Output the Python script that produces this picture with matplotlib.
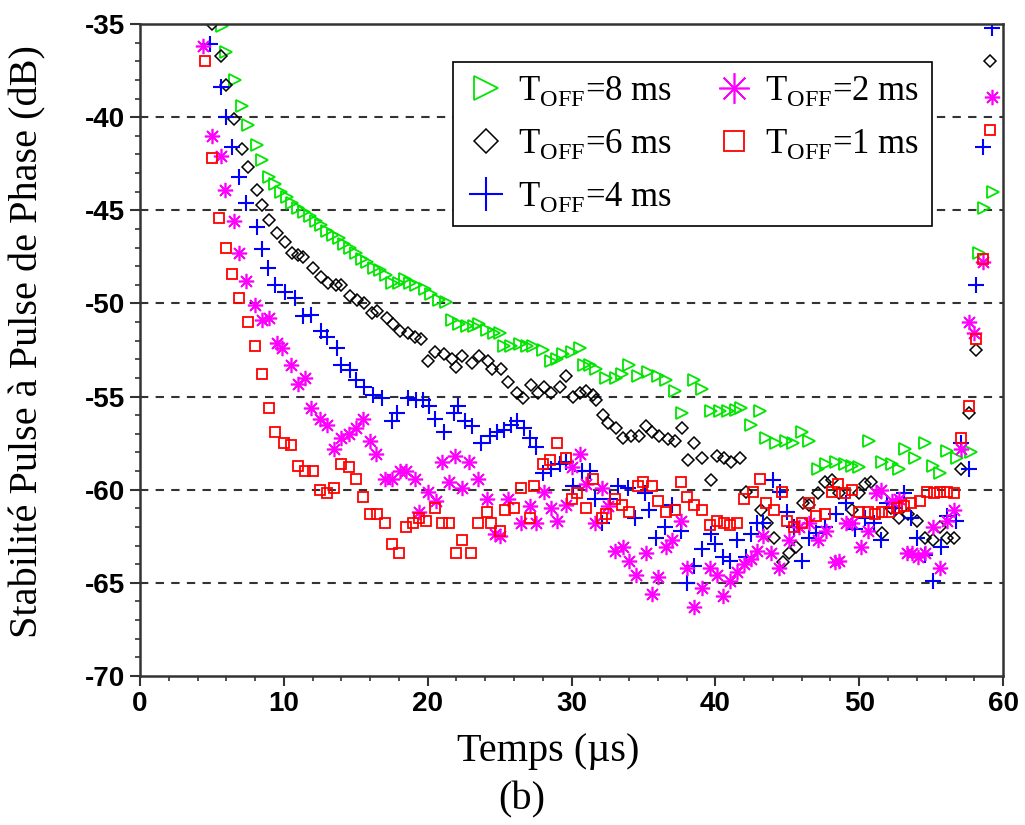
"""
Stabilite pulse a pulse de phase vs temps, pour plusieurs T_OFF
"""
import matplotlib.pyplot as plt
from matplotlib.ticker import MultipleLocator

# T_OFF = 8 ms (green triangles)
x_8ms = [5.7, 6.0, 6.6, 7.1, 7.5, 8.1, 8.5, 9.0, 9.4, 9.8, 10.2, 10.6, 11.0, 11.4, 11.8,
         12.2, 12.6, 13.0, 13.4, 13.8, 14.2, 14.6, 15.0, 15.4, 15.8, 16.3, 16.7, 17.1, 17.5,
         18.0, 18.4, 18.8, 19.2, 19.8, 20.2, 20.8, 21.3, 21.7, 22.2, 22.7, 23.2, 23.6, 24.1,
         24.6, 25.0, 25.3, 25.8, 26.4, 26.9, 27.3, 28.0, 28.6, 29.0, 29.4, 30.0, 30.6, 30.9,
         31.3, 31.7, 32.4, 33.1, 33.5, 34.0, 34.6, 35.3, 36.0, 36.6, 37.2, 37.7, 38.5, 39.1,
         39.7, 40.3, 40.9, 41.4, 41.8, 42.5, 43.1, 43.5, 44.2, 44.9, 45.4, 46.0, 46.5, 47.1,
         47.7, 48.4, 49.0, 49.5, 50.0, 50.7, 51.6, 52.3, 52.8, 53.2, 53.9, 54.6, 55.1, 55.6,
         56.1, 56.8, 57.8, 58.3, 58.7, 59.3]
y_8ms = [-35.1, -36.5, -38.0, -39.4, -40.4, -41.5, -42.3, -43.2, -43.6, -44.0, -44.3, -44.6,
         -44.9, -45.1, -45.3, -45.6, -45.8, -46.1, -46.3, -46.5, -46.8, -47.0, -47.3, -47.6,
         -47.8, -48.1, -48.2, -48.5, -48.9, -48.9, -48.7, -48.9, -49.0, -49.2, -49.5, -49.8,
         -49.9, -50.9, -51.1, -51.2, -51.2, -51.1, -51.4, -51.6, -51.6, -52.3, -52.3, -52.2,
         -52.3, -52.3, -52.5, -53.1, -53.0, -52.7, -52.6, -52.4, -53.3, -53.3, -53.5, -54.0,
         -54.0, -53.8, -53.3, -53.9, -53.7, -53.9, -54.1, -54.7, -55.9, -54.1, -54.6, -55.8,
         -55.8, -55.8, -55.7, -55.6, -56.5, -55.8, -57.2, -57.5, -57.4, -57.5, -56.9, -57.4,
         -58.9, -58.6, -58.5, -58.6, -58.7, -58.8, -57.4, -58.5, -58.6, -58.9, -57.8, -58.3,
         -57.5, -58.7, -59.1, -57.9, -58.3, -58.0, -47.3, -44.9, -44.0]

# T_OFF = 6 ms (black diamonds)
x_6ms = [5.0, 5.6, 6.0, 6.5, 7.1, 7.5, 8.1, 8.5, 9.0, 9.5, 10.1, 10.6, 11.0, 11.3, 12.0,
         12.6, 13.1, 13.6, 14.0, 14.6, 15.1, 15.6, 16.1, 16.5, 17.2, 17.6, 18.1, 18.6, 19.1,
         19.5, 20.0, 20.5, 21.1, 21.7, 22.0, 22.4, 23.1, 23.6, 24.2, 24.5, 25.1, 25.6, 26.2,
         26.6, 27.2, 27.7, 28.1, 28.6, 29.2, 29.6, 30.1, 30.6, 31.0, 31.5, 31.7, 32.2, 32.5,
         33.1, 33.6, 34.1, 34.7, 35.2, 35.6, 36.1, 36.7, 37.2, 37.7, 38.1, 38.5, 39.1, 39.7,
         40.1, 40.6, 41.1, 41.7, 42.1, 43.2, 43.6, 44.1, 44.7, 45.1, 45.6, 46.1, 46.5, 47.1,
         47.6, 48.1, 48.6, 49.5, 50.0, 50.4, 50.8, 51.6, 52.2, 52.8, 53.4, 54.0, 54.6, 55.1,
         55.6, 56.1, 56.6, 57.1, 57.6, 58.1, 59.1]
y_6ms = [-35.0, -36.7, -38.3, -40.1, -41.7, -42.7, -43.9, -44.7, -45.5, -46.2, -46.7, -47.3,
         -47.4, -47.5, -48.1, -48.6, -48.9, -49.0, -49.0, -49.6, -49.8, -50.0, -50.5, -50.4,
         -50.8, -51.1, -51.5, -51.6, -51.8, -51.9, -53.1, -52.6, -52.7, -53.0, -53.4, -52.8,
         -53.2, -52.8, -53.1, -53.5, -53.5, -54.2, -54.8, -55.1, -54.4, -54.8, -54.5, -54.8,
         -54.5, -53.9, -55.0, -54.8, -54.7, -54.9, -55.2, -56.0, -56.4, -56.7, -57.2, -57.1,
         -57.1, -56.6, -56.9, -57.1, -57.3, -57.4, -56.7, -58.4, -57.5, -58.3, -59.5, -58.2,
         -58.3, -58.5, -58.3, -60.1, -61.1, -61.8, -62.6, -63.9, -63.4, -63.1, -60.7, -60.8,
         -60.2, -59.6, -59.5, -60.2, -61.1, -60.2, -59.7, -59.6, -62.3, -61.0, -61.5, -61.3,
         -61.7, -62.6, -62.7, -62.0, -62.6, -62.6, -58.9, -55.9, -52.5, -37.0]

# T_OFF = 4 ms (blue plus)
x_4ms = [4.9, 5.6, 6.0, 6.4, 6.9, 7.4, 8.1, 8.5, 8.9, 9.4, 10.1, 10.8, 11.3, 11.9, 12.6,
         13.0, 13.7, 14.0, 14.6, 15.0, 15.6, 16.2, 16.8, 17.5, 17.9, 18.6, 19.2, 19.7, 20.1,
         20.5, 21.1, 21.8, 22.1, 22.6, 23.1, 23.7, 24.3, 24.8, 25.3, 25.8, 26.2, 26.7, 27.1,
         27.5, 28.0, 28.6, 29.2, 29.6, 30.1, 30.7, 31.3, 31.6, 32.1, 32.7, 33.2, 33.9, 34.4,
         35.1, 35.4, 35.9, 36.5, 37.0, 37.6, 38.0, 38.5, 39.1, 39.7, 40.0, 40.5, 41.0, 41.5,
         42.1, 42.5, 42.9, 43.3, 44.0, 44.5, 45.0, 45.5, 46.0, 46.5, 47.0, 47.6, 48.4, 49.1,
         49.7, 50.4, 51.0, 51.5, 51.9, 52.5, 53.1, 53.6, 54.0, 54.6, 55.1, 55.7, 56.1, 56.7,
         57.1, 57.6, 58.1, 58.6, 59.2]
y_4ms = [-36.1, -38.4, -40.0, -41.6, -43.2, -44.6, -45.9, -47.1, -48.1, -49.0, -49.4, -49.7,
         -50.7, -50.6, -51.5, -51.8, -52.4, -53.3, -53.6, -54.1, -54.5, -54.9, -55.1, -56.3,
         -55.9, -55.1, -55.2, -55.2, -55.5, -56.2, -56.9, -55.9, -55.5, -56.3, -56.6, -57.5,
         -57.1, -56.9, -56.8, -56.5, -56.3, -56.7, -57.2, -57.7, -59.1, -58.9, -58.6, -58.5,
         -59.8, -59.0, -59.0, -60.5, -61.8, -60.5, -59.8, -59.9, -61.5, -60.2, -61.1, -62.6,
         -62.0, -60.8, -62.2, -65.0, -64.1, -63.2, -62.4, -62.9, -63.6, -63.8, -62.7, -63.6,
         -62.4, -61.8, -61.8, -59.5, -60.1, -61.2, -62.0, -63.8, -62.6, -62.3, -62.0, -61.3,
         -60.7, -62.1, -61.5, -61.8, -62.7, -60.7, -61.0, -60.2, -61.5, -62.6, -63.5, -64.9,
         -63.1, -61.4, -61.7, -57.5, -58.9, -49.0, -41.6, -35.2]

# T_OFF = 2 ms (magenta asterisks)
x_2ms = [4.4, 5.0, 5.6, 5.9, 6.5, 6.9, 7.4, 8.0, 8.5, 9.0, 9.5, 9.9, 10.5, 11.0, 11.5,
         11.9, 12.5, 13.0, 13.5, 14.0, 14.5, 15.0, 15.5, 16.0, 16.4, 17.0, 17.5, 18.1, 18.5,
         19.1, 19.4, 20.0, 20.6, 21.0, 21.5, 21.9, 22.4, 22.9, 23.5, 24.1, 24.7, 25.0, 25.6,
         26.5, 27.1, 27.5, 28.1, 28.6, 29.0, 29.6, 30.0, 30.6, 31.0, 31.6, 32.1, 32.5, 33.0,
         33.6, 34.0, 34.5, 35.2, 35.6, 36.0, 36.6, 37.0, 37.6, 38.0, 38.5, 39.1, 39.6, 40.1,
         40.5, 41.0, 41.5, 42.0, 42.5, 42.9, 43.3, 43.9, 44.4, 45.1, 45.8, 46.5, 47.1, 47.7,
         48.3, 48.6, 49.1, 49.5, 50.1, 50.6, 51.2, 51.5, 52.3, 52.8, 53.3, 53.7, 54.1, 54.6,
         55.1, 55.6, 56.1, 56.6, 57.1, 57.6, 58.0, 58.6, 59.2]
y_2ms = [-36.2, -41.0, -42.1, -43.9, -45.6, -47.3, -48.8, -50.1, -50.9, -50.8, -52.1, -52.4,
         -53.3, -54.3, -54.0, -55.6, -56.2, -56.5, -57.8, -57.2, -57.0, -56.7, -56.2, -57.4,
         -58.1, -59.4, -59.4, -59.0, -59.0, -59.4, -61.2, -60.1, -60.6, -58.5, -59.6, -58.2,
         -59.9, -58.5, -59.4, -60.5, -62.4, -62.5, -60.5, -61.8, -60.9, -61.8, -60.1, -61.0,
         -61.7, -60.8, -58.8, -58.1, -59.7, -61.8, -59.9, -60.9, -63.3, -63.1, -63.8, -64.6,
         -63.4, -65.6, -64.7, -63.1, -62.7, -61.7, -64.2, -66.3, -65.3, -64.2, -64.6, -65.7,
         -64.9, -64.4, -64.0, -63.7, -63.3, -62.5, -63.4, -64.2, -62.7, -62.0, -61.8, -62.7,
         -62.2, -63.9, -63.8, -61.8, -61.8, -63.1, -62.2, -60.2, -60.0, -60.6, -60.5, -63.4,
         -63.4, -63.6, -63.4, -62.0, -64.2, -61.7, -61.1, -57.8, -51.0, -51.6, -47.8, -38.9]

# T_OFF = 1 ms (red squares)
x_1ms = [4.5, 5.0, 5.5, 6.0, 6.4, 6.9, 7.5, 8.0, 8.5, 9.0, 9.4, 10.0, 10.5, 11.0, 11.5,
         12.0, 12.5, 13.0, 13.5, 14.0, 14.5, 15.0, 15.5, 16.0, 16.5, 17.0, 17.5, 18.0, 18.5,
         19.0, 19.4, 19.9, 20.5, 21.0, 21.5, 22.0, 22.4, 23.0, 23.5, 24.1, 24.4, 25.0, 25.4,
         26.0, 26.5, 27.1, 27.4, 28.0, 28.5, 29.0, 29.6, 30.0, 30.4, 31.0, 31.5, 32.1, 32.4,
         33.0, 33.5, 34.0, 34.6, 35.0, 35.6, 36.0, 36.6, 37.2, 37.6, 38.0, 38.5, 39.1, 39.6,
         40.1, 40.6, 41.0, 41.5, 42.0, 42.6, 43.1, 43.5, 44.1, 44.6, 45.0, 45.5, 46.0, 46.5,
         47.0, 47.6, 48.1, 48.5, 49.0, 49.5, 50.0, 50.6, 51.1, 51.6, 52.1, 52.6, 53.1, 53.6,
         54.2, 54.7, 55.2, 55.6, 56.1, 56.6, 57.1, 57.6, 58.1, 58.6, 59.1]
y_1ms = [-37.0, -42.2, -45.4, -47.0, -48.4, -49.7, -51.0, -52.3, -53.8, -55.6, -56.9, -57.5,
         -57.6, -58.7, -59.0, -59.0, -60.0, -60.2, -59.9, -58.6, -58.8, -59.4, -60.4, -61.3,
         -61.3, -61.8, -62.9, -63.4, -62.0, -61.8, -61.5, -61.7, -61.0, -61.8, -61.8, -63.4,
         -62.7, -63.4, -61.8, -61.2, -61.8, -62.2, -61.1, -61.0, -59.9, -61.5, -59.8, -58.6,
         -58.4, -57.5, -58.3, -60.5, -60.2, -61.0, -59.4, -61.5, -61.3, -60.5, -60.8, -61.2,
         -59.8, -59.6, -59.8, -60.6, -61.2, -61.1, -59.6, -60.4, -60.8, -61.1, -61.9, -61.7,
         -61.8, -61.9, -61.8, -60.5, -60.1, -59.4, -60.7, -61.1, -60.1, -61.7, -62.0, -61.8,
         -60.7, -61.4, -61.3, -60.1, -59.7, -60.2, -60.0, -61.2, -61.2, -61.3, -61.2, -61.2,
         -61.0, -60.9, -60.7, -60.6, -60.1, -60.2, -60.1, -60.1, -60.2, -57.2, -55.5, -51.9,
         -47.6, -40.7]

plt.rcParams['mathtext.fontset'] = 'custom'
plt.rcParams['mathtext.rm'] = 'Liberation Serif'
plt.rcParams['axes.unicode_minus'] = False

fig = plt.figure(figsize=(10.25, 8.25), dpi=100)
ax = fig.add_axes([0.1366, 0.1806, 0.842, 0.7903])

ax.plot(x_8ms, y_8ms, '>', ms=8.5, mfc='none', mec='#00e600', mew=1.3,
        label=r'T$_\mathrm{OFF}$=8 ms')
ax.plot(x_6ms, y_6ms, 'D', ms=6, mfc='none', mec='black', mew=1.1,
        label=r'T$_\mathrm{OFF}$=6 ms')
ax.plot(x_4ms, y_4ms, '+', ms=12, mec='#0000ff', mew=1.5,
        label=r'T$_\mathrm{OFF}$=4 ms')
ax.plot(x_2ms, y_2ms, ls='none', marker=(8, 2, 0), ms=11, mec='#ff00ff', mew=1.2,
        label=r'T$_\mathrm{OFF}$=2 ms')
ax.plot(x_1ms, y_1ms, 's', ms=7, mfc='none', mec='#ff0000', mew=1.3,
        label=r'T$_\mathrm{OFF}$=1 ms')

# dashed horizontal grid
for yv in [-40, -45, -50, -55, -60, -65]:
    ax.axhline(yv, color='#333333', ls=(0, (4, 3.5)), lw=1.5, zorder=0)

ax.set_xlim(0, 60)
ax.set_ylim(-70, -35)
ax.xaxis.set_major_locator(MultipleLocator(10))
ax.xaxis.set_minor_locator(MultipleLocator(2))
ax.yaxis.set_major_locator(MultipleLocator(5))
ax.yaxis.set_minor_locator(MultipleLocator(1))
ax.tick_params(which='major', direction='out', length=7, width=1.5, color='#333333',
               labelsize=20, pad=4)
ax.tick_params(which='minor', direction='out', length=3.5, width=1.2, color='#333333')
for lab in ax.get_xticklabels() + ax.get_yticklabels():
    lab.set_fontfamily('Liberation Sans')
    lab.set_fontweight('bold')
for sp in ax.spines.values():
    sp.set_color('#333333')
    sp.set_linewidth(1.8)

leg = ax.legend(ncol=2, loc='upper left', bbox_to_anchor=(0.363, 0.942),
                prop={'family': 'Liberation Serif', 'size': 25}, markerscale=2.0,
                frameon=True, fancybox=False, edgecolor='black', framealpha=1,
                handlelength=1.2, handletextpad=0.3, columnspacing=1.2,
                labelspacing=0.55, borderpad=0.35, borderaxespad=0)
leg.get_frame().set_linewidth(1.2)

fig.text(548 / 1025, 1 - 752 / 825, u'Temps (\u00b5s)', family='Liberation Serif',
         fontsize=29, ha='center', va='center')
fig.text(522 / 1025, 1 - 800 / 825, '(b)', family='Liberation Serif',
         fontsize=29, ha='center', va='center')
fig.text(28 / 1025, 1 - 342 / 825, u'Stabilit\u00e9 Pulse \u00e0 Pulse de Phase (dB)',
         family='Liberation Serif', fontsize=29, rotation=90, ha='center', va='center')

plt.savefig('out.png', dpi=100)
